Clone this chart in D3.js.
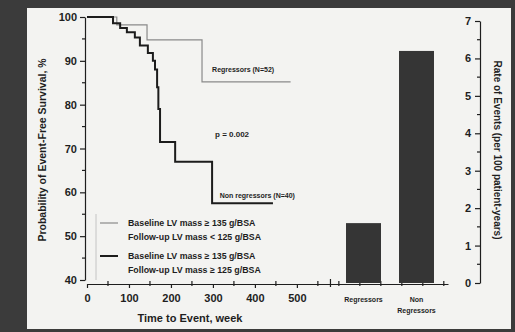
<!DOCTYPE html>
<html>
<head>
<meta charset="utf-8">
<script src="https://cdn.jsdelivr.net/npm/d3@7"></script>
<style>
  html, body { margin: 0; padding: 0; background: #3b3b3b; }
  svg { display: block; font-family: "Liberation Sans", Arial, sans-serif; }
  .ax path, .ax line { stroke: #1e1e1e; stroke-width: 1.2; }
  .ax text { fill: #1e1e1e; font-weight: bold; font-size: 11px; }
</style>
</head>
<body>
<div id="chart"></div>
<script>
// Kaplan-Meier steps, [week, survival %]
const regressors = [[0, 100], [71, 98.2], [143, 94.8], [274, 85.2], [485, 85.2]]
const nonRegressors = [
  [0, 100], [62, 98.6], [79, 97.5], [95, 96.5], [114, 95.3], [126, 93.5],
  [145, 91.8], [157, 90.0], [162, 88.0], [167, 84.0], [170, 79.0], [174, 71.5],
  [210, 67.0], [298, 57.5], [443, 57.5]
]
const groups = ['Regressors', 'Non Regressors']
const rates = [1.6, 6.2]
const survivalTicks = [40, 50, 60, 70, 80, 90, 100]
const weekTicks = [0, 100, 200, 300, 400, 500]
const rateTicks = [0, 1, 2, 3, 4, 5, 6, 7]
const legendRows = [
  ['Baseline LV mass \u2265 135 g/BSA', 'Follow-up LV mass < 125 g/BSA'],
  ['Baseline LV mass \u2265 135 g/BSA', 'Follow-up LV mass \u2265 125 g/BSA']
]

const W = 515
const H = 332

const svg = d3.select('#chart').append('svg')
  .attr('width', W)
  .attr('height', H)

// scanned page panel
svg.append('rect')
  .attr('x', 27).attr('y', 8)
  .attr('width', W - 31).attr('height', H - 11)
  .attr('fill', '#f3f3f1')

const x = d3.scaleLinear([0, 860], [87, 448])
const y = d3.scaleLinear([40, 100], [280, 17])
const yR = d3.scaleLinear([0, 7], [283, 21])
const band = d3.scaleBand(groups, [337, 443]).paddingInner(0.34).paddingOuter(0.17)

// left axis
const yAxis = svg.append('g')
  .attr('class', 'ax')
  .attr('transform', 'translate(85,0)')
  .call(d3.axisLeft(y).tickValues(survivalTicks).tickSize(5).tickPadding(3).tickSizeOuter(0))
yAxis.selectAll('.minor')
  .data(d3.range(45, 100, 10))
  .enter().append('line')
  .attr('x1', -3).attr('x2', 0)
  .attr('y1', d => y(d)).attr('y2', d => y(d))
  .attr('stroke', '#1e1e1e')

// bottom axis, continues under the bars
const xAxis = svg.append('g')
  .attr('class', 'ax')
  .attr('transform', 'translate(0,284)')
  .call(d3.axisBottom(x).tickValues(weekTicks).tickSize(4).tickPadding(6).tickSizeOuter(0))
xAxis.selectAll('.minor')
  .data(d3.range(50, 860, 50).filter(d => d % 100 !== 0 || d > 500))
  .enter().append('line')
  .attr('x1', d => x(d)).attr('x2', d => x(d))
  .attr('y1', -3).attr('y2', 2)
  .attr('stroke', '#1e1e1e')
xAxis.append('line')
  .attr('x1', x(580)).attr('x2', x(580))
  .attr('y1', -5).attr('y2', 3)
  .attr('stroke', '#777')

// right axis
const rAxis = svg.append('g')
  .attr('class', 'ax')
  .attr('transform', 'translate(480,0)')
  .call(d3.axisLeft(yR).tickValues(rateTicks).tickFormat(d3.format('d'))
    .tickSize(5).tickPadding(4).tickSizeOuter(0))
rAxis.selectAll('.minor')
  .data(d3.range(0.5, 7, 1))
  .enter().append('line')
  .attr('x1', -3).attr('x2', 0)
  .attr('y1', d => yR(d)).attr('y2', d => yR(d))
  .attr('stroke', '#1e1e1e')

// survival curves
const step = d3.line().x(d => x(d[0])).y(d => y(d[1])).curve(d3.curveStepAfter)
svg.append('path')
  .datum(regressors)
  .attr('fill', 'none')
  .attr('stroke', '#8a8a8a')
  .attr('stroke-width', 1.2)
  .attr('d', step)
svg.append('path')
  .datum(nonRegressors)
  .attr('fill', 'none')
  .attr('stroke', '#1c1c1c')
  .attr('stroke-width', 2)
  .attr('d', step)

// bars
svg.append('g').selectAll('rect')
  .data(groups)
  .enter().append('rect')
  .attr('x', d => band(d))
  .attr('width', band.bandwidth())
  .attr('y', (d, i) => yR(rates[i]))
  .attr('height', (d, i) => yR(0) - yR(rates[i]))
  .attr('fill', '#353535')

const label = (tx, ty, str, size, anchor) => svg.append('text')
  .attr('x', tx).attr('y', ty)
  .attr('font-size', size)
  .attr('font-weight', 'bold')
  .attr('text-anchor', anchor || 'start')
  .attr('fill', '#1e1e1e')
  .text(str)

// bar category labels
label(band('Regressors') + band.bandwidth() / 2, 302, 'Regressors', 7, 'middle')
label(band('Non Regressors') + band.bandwidth() / 2, 302, 'Non', 7, 'middle')
label(band('Non Regressors') + band.bandwidth() / 2, 313, 'Regressors', 7, 'middle')

// curve annotations
label(x(298), y(87.4), 'Regressors (N=52)', 7)
label(x(316), y(58.8), 'Non regressors (N=40)', 7)
label(x(305), y(72.6), 'p = 0.002', 8)

// legend
svg.append('line')
  .attr('x1', 96).attr('x2', 96).attr('y1', 214).attr('y2', 280)
  .attr('stroke', '#c4c4c4')
legendRows.forEach((rows, i) => {
  const ly = 226 + i * 33
  svg.append('line')
    .attr('x1', 100).attr('x2', 118).attr('y1', ly - 3).attr('y2', ly - 3)
    .attr('stroke', i === 0 ? '#8a8a8a' : '#1c1c1c')
    .attr('stroke-width', i === 0 ? 1.2 : 2)
  label(128, ly, rows[0], 8.8)
  label(128, ly + 14, rows[1], 8.8)
})

// axis titles
label(190, 322, 'Time to Event, week', 11, 'middle')
svg.append('text')
  .attr('transform', 'translate(46,150) rotate(-90)')
  .attr('text-anchor', 'middle')
  .attr('font-size', 10.5).attr('font-weight', 'bold').attr('fill', '#1e1e1e')
  .text('Probability of Event-Free Survival, %')
svg.append('text')
  .attr('transform', 'translate(494,150) rotate(90)')
  .attr('text-anchor', 'middle')
  .attr('font-size', 10).attr('font-weight', 'bold').attr('fill', '#1e1e1e')
  .text('Rate of Events (per 100 patient-years)')
</script>
</body>
</html>
